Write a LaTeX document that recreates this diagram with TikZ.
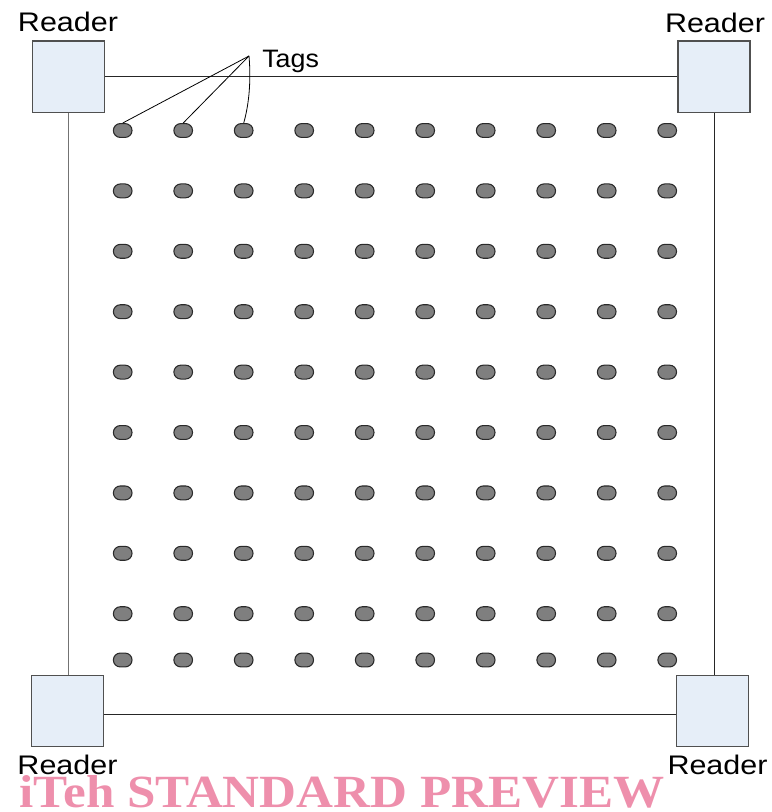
\documentclass[tikz,border=0pt]{standalone}
\usepackage{fontspec}
\usepackage{graphicx}
\setmainfont{Liberation Sans}
\newfontfamily\wmfont{Liberation Serif}
\usetikzlibrary{shapes.geometric}

\definecolor{readerfill}{HTML}{E6EEF8}
\definecolor{readeredge}{HTML}{505050}
\definecolor{tagfill}{HTML}{7F7F7F}
\definecolor{tagedge}{HTML}{2A2A2A}
\definecolor{wmpink}{HTML}{EE8FAC}

\tikzset{
  readerbox/.style={draw=readeredge, line width=1.1pt, fill=readerfill,
    rectangle, minimum width=54pt, minimum height=53.6pt, inner sep=0pt},
  tagdot/.style={draw=tagedge, line width=0.8pt, fill=tagfill,
    rounded rectangle, minimum width=14pt, minimum height=10.4pt, inner sep=0pt},
  wire/.style={line width=0.75pt, draw=black!85},
  pointer/.style={line width=0.6pt, draw=black},
  caption/.style={inner sep=0pt, anchor=base}
}
\usetikzlibrary{shapes.misc}

\begin{document}
\begin{tikzpicture}[x=0.75pt, y=-0.75pt]
  \useasboundingbox (0,0) rectangle (771,812);

  % readers at the four corners
  \node[readerbox] (tl) at (68.7,76.9) {};
  \node[readerbox] (tr) at (714.2,76.9) {};
  \node[readerbox] (bl) at (67.7,711) {};
  \node[readerbox] (br) at (712.7,711) {};

  % reader captions
  \node[caption] (ltl) at (68,32)    {\resizebox{75pt}{14.6pt}{Reader}};
  \node[caption] (ltr) at (715,32.5) {\resizebox{75pt}{14.6pt}{Reader}};
  \node[caption] (lbl) at (67.5,774) {\resizebox{75pt}{14.6pt}{Reader}};
  \node[caption] (lbr) at (717.5,774){\resizebox{75pt}{14.6pt}{Reader}};

  % links between readers
  \draw[wire] (tl.east) -- (tr.west);
  \draw[wire] ([yshift=-2.25pt]bl.east) -- ([yshift=-2.25pt]br.west);
  \draw[wire, draw=black!55] (tl.south) -- (tl.south |- bl.north);
  \draw[wire] (tr.south) -- (tr.south |- br.north);

  % grid of tags
  \foreach \c in {0,...,9} {
    \foreach \r in {0,...,8} {
      \node[tagdot] (t-\r-\c) at ({122.7+60.5*\c},{130.5+60.4*\r}) {};
    }
    \node[tagdot] (t-9-\c) at ({122.7+60.5*\c},660) {};
  }

  % tags callout
  \coordinate (apex) at (249,56);
  \node[inner sep=0pt, anchor=base west] (tags) at (262,68)
    {\resizebox{42.5pt}{13pt}{Tags}};
  \draw[pointer] (apex) -- (t-0-0.north);
  \draw[pointer] (apex) -- (t-0-1.north);
  \draw[pointer] (apex) .. controls (251.5,85) and (248,108) .. (t-0-2.north);

  % preview banner
  \node[caption, anchor=base west, text=wmpink] (banner) at (19.5,807)
    {\resizebox{483.75pt}{24pt}{\wmfont\bfseries iTeh STANDARD PREVIEW}};
\end{tikzpicture}
\end{document}
